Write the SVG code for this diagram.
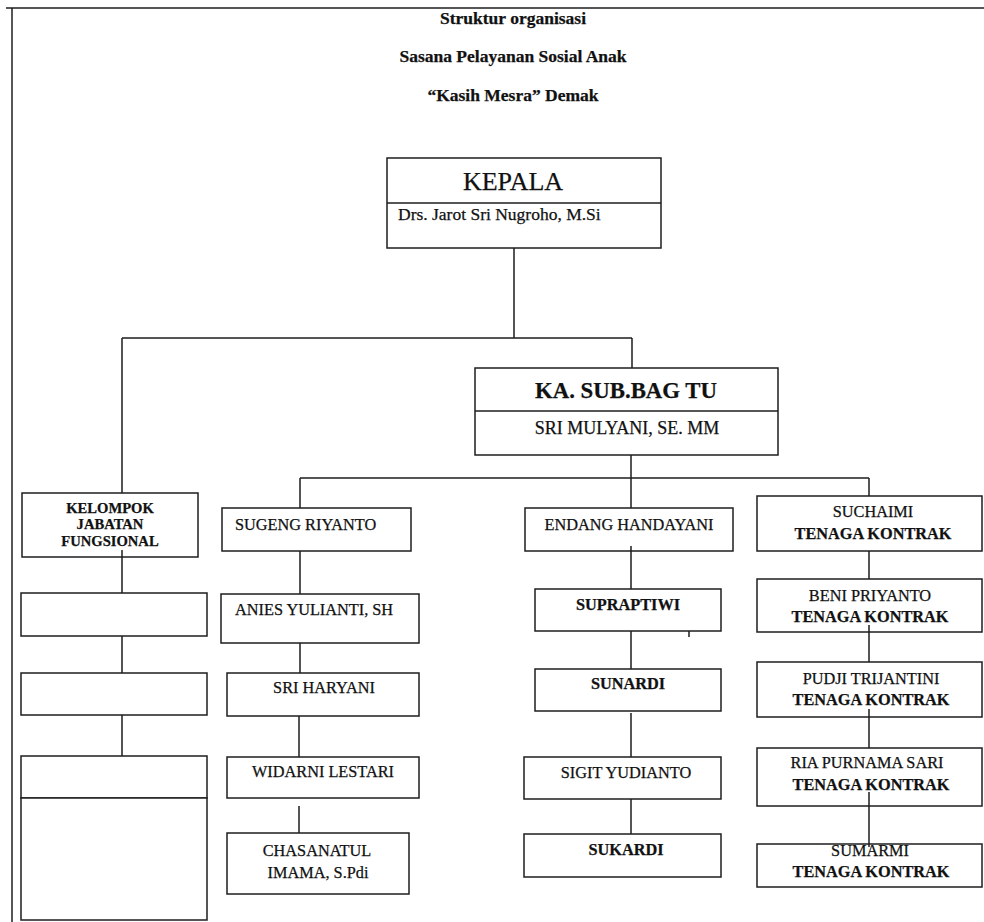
<svg xmlns="http://www.w3.org/2000/svg" width="984" height="922" viewBox="0 0 984 922">
<style>
.bx{fill:#fff;stroke:#1e1e1e;stroke-width:1.5}
.ln{fill:none;stroke:#1e1e1e;stroke-width:1.5}
text{font-family:"Liberation Serif","Times New Roman",serif;fill:#111;stroke:#111;stroke-width:0.25}
.t{font-size:17.5px;font-weight:bold;text-anchor:middle}
.n{font-size:16.3px}
.c{text-anchor:middle}
.b{font-weight:bold}
</style>
<rect x="0" y="0" width="984" height="922" fill="#fff"/>
<g id="frame">
<line class="ln" x1="6" y1="8" x2="984" y2="8" stroke-width="2"/>
<line class="ln" x1="12" y1="8" x2="12" y2="922" stroke-width="2"/>
</g>
<g id="title">
<text class="t" x="513" y="24">Struktur organisasi</text>
<text class="t" x="513" y="62">Sasana Pelayanan Sosial Anak</text>
<text class="t" x="513" y="101">“Kasih Mesra” Demak</text>
</g>
<g id="kepala">
<rect class="bx" x="387" y="158" width="274" height="90"/>
<line class="ln" x1="387" y1="203" x2="661" y2="203"/>
<text x="513" y="190" class="c" font-size="26">KEPALA</text>
<text x="398" y="220" font-size="17.5">Drs. Jarot Sri Nugroho, M.Si</text>
</g>
<g id="kasubbag">
<rect class="bx" x="475" y="368" width="303" height="87"/>
<line class="ln" x1="475" y1="411" x2="778" y2="411"/>
<text x="626" y="398" class="c b" font-size="22.8">KA. SUB.BAG TU</text>
<text x="627" y="434" class="c" font-size="18">SRI MULYANI, SE. MM</text>
</g>
<g id="kelompok">
<rect class="bx" x="22" y="493" width="176" height="64"/>
<text class="c b" font-size="14.6" x="110" y="513">KELOMPOK</text>
<text class="c b" font-size="14.6" x="110" y="529">JABATAN</text>
<text class="c b" font-size="14.6" x="110" y="546">FUNGSIONAL</text>
</g>
<g id="fungsional-1"><rect class="bx" x="21" y="593" width="186" height="43"/></g>
<g id="fungsional-2"><rect class="bx" x="21" y="673" width="186" height="42"/></g>
<g id="fungsional-3"><rect class="bx" x="21" y="756" width="186" height="42"/></g>
<g id="fungsional-4"><rect class="bx" x="21" y="798" width="186" height="122"/></g>
<g id="sugeng">
<rect class="bx" x="222" y="508" width="189" height="43"/>
<text class="n" x="235" y="530">SUGENG RIYANTO</text>
</g>
<g id="anies">
<rect class="bx" x="221" y="594" width="198" height="49"/>
<text class="n" x="235" y="615">ANIES YULIANTI, SH</text>
</g>
<g id="sriharyani">
<rect class="bx" x="227" y="673" width="192" height="43"/>
<text class="n c" x="324" y="693">SRI HARYANI</text>
</g>
<g id="widarni">
<rect class="bx" x="227" y="757" width="192" height="41"/>
<text class="n c" x="323" y="777">WIDARNI LESTARI</text>
</g>
<g id="chasanatul">
<rect class="bx" x="227" y="833" width="182" height="61"/>
<text class="n c" x="317" y="856">CHASANATUL</text>
<text class="n c" x="318" y="878">IMAMA, S.Pdi</text>
</g>
<g id="endang">
<rect class="bx" x="525" y="508" width="208" height="43"/>
<text class="n c" x="629" y="530">ENDANG HANDAYANI</text>
</g>
<g id="supraptiwi">
<rect class="bx" x="535" y="589" width="186" height="42"/>
<text class="n c b" x="628" y="610">SUPRAPTIWI</text>
</g>
<g id="sunardi">
<rect class="bx" x="535" y="669" width="186" height="42"/>
<text class="n c b" x="628" y="689">SUNARDI</text>
</g>
<g id="sigit">
<rect class="bx" x="524" y="757" width="197" height="42"/>
<text class="n c" x="626" y="778">SIGIT YUDIANTO</text>
</g>
<g id="sukardi">
<rect class="bx" x="524" y="834" width="197" height="43"/>
<text class="n c b" x="626" y="855">SUKARDI</text>
</g>
<g id="suchaimi">
<rect class="bx" x="757" y="496" width="225" height="55"/>
<text class="n c" x="873" y="517">SUCHAIMI</text>
<text class="n c b" x="873" y="539">TENAGA KONTRAK</text>
</g>
<g id="beni">
<rect class="bx" x="757" y="579" width="225" height="53"/>
<text class="n c" x="870" y="601">BENI PRIYANTO</text>
<text class="n c b" x="870" y="622">TENAGA KONTRAK</text>
</g>
<g id="pudji">
<rect class="bx" x="757" y="662" width="225" height="55"/>
<text class="n c" x="871" y="684">PUDJI TRIJANTINI</text>
<text class="n c b" x="871" y="705">TENAGA KONTRAK</text>
</g>
<g id="ria">
<rect class="bx" x="757" y="748" width="225" height="58"/>
<text class="n c" x="867" y="768">RIA PURNAMA SARI</text>
<text class="n c b" x="871" y="790">TENAGA KONTRAK</text>
</g>
<g id="sumarmi">
<rect class="bx" x="757" y="844" width="225" height="43"/>
<text class="n c" x="870" y="856">SUMARMI</text>
<text class="n c b" x="871" y="877">TENAGA KONTRAK</text>
</g>
<g id="connectors">
<path class="ln" d="M514 248V338M122 338H632M122 338V493M632 338V368M631 455V478M300 478H869M300 478V508M631 478V508M869 478V496"/>
<path class="ln" d="M122 550V593M122 636V673M122 715V756"/>
<path class="ln" d="M300 551V594M300 643V673M299 716V757M299 806V833"/>
<path class="ln" d="M631 546V589M631 631V669M631 713V757M631 799V834M689 631V637"/>
<path class="ln" d="M869 551V579M869 625V662M869 709V748M869 792V847"/>
</g>
</svg>
